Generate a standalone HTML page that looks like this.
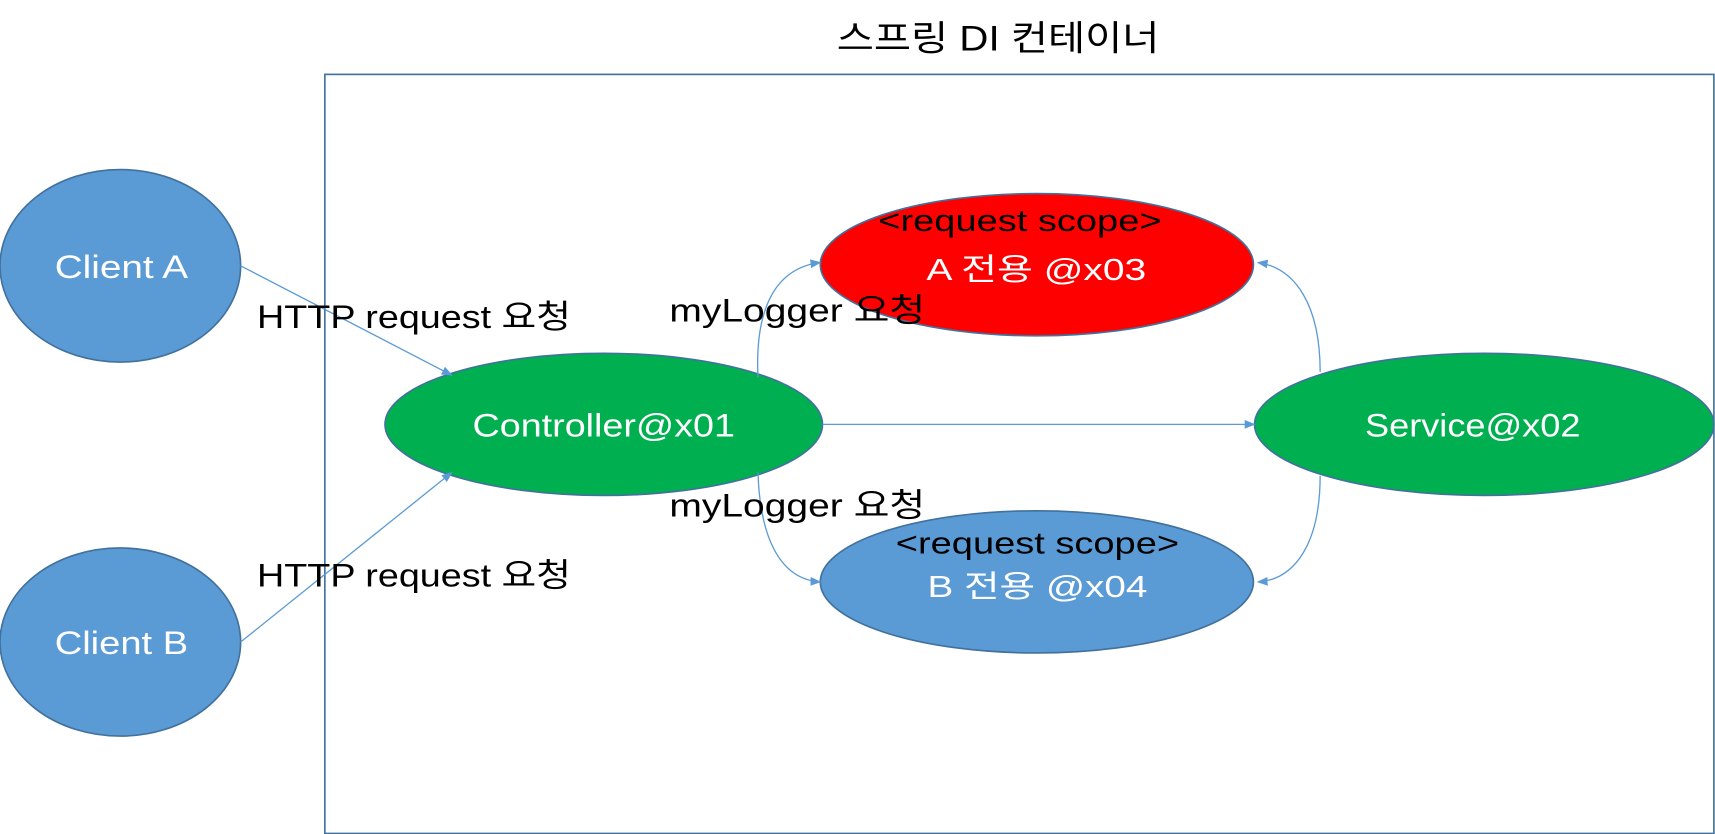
<!DOCTYPE html>
<html><head><meta charset="utf-8"><style>
html,body{margin:0;padding:0;background:#fff;}
svg{display:block;}
text{font-family:"Liberation Sans","Noto Sans CJK KR",sans-serif;}
</style></head><body>
<svg width="1715" height="834" viewBox="0 0 1568 762.5" xmlns="http://www.w3.org/2000/svg">
<defs>
<marker id="ar" markerWidth="10" markerHeight="10" refX="9" refY="5" orient="auto" markerUnits="userSpaceOnUse">
<path d="M0,1 L10,5 L0,9 z" fill="#5b9bd5"/>
</marker>
</defs>
<text x="765" y="46" font-size="32" textLength="295" lengthAdjust="spacingAndGlyphs" fill="#000">스프링 DI 컨테이너</text>
<rect x="297" y="68" width="1270" height="694" fill="none" stroke="#41719c" stroke-width="1.5"/>

<ellipse cx="110" cy="243" rx="110" ry="88" fill="#5b9bd5" stroke="#41719c" stroke-width="1.5"/>
<text x="50" y="254" font-size="30" fill="#fff" textLength="122" lengthAdjust="spacingAndGlyphs">Client A</text>
<ellipse cx="110" cy="587" rx="110" ry="86" fill="#5b9bd5" stroke="#41719c" stroke-width="1.5"/>
<text x="50" y="598" font-size="30" fill="#fff" textLength="122" lengthAdjust="spacingAndGlyphs">Client B</text>

<ellipse cx="552" cy="388" rx="200" ry="65" fill="#00b050" stroke="#41719c" stroke-width="1.5"/>
<text x="432" y="399" font-size="30" fill="#fff" textLength="240" lengthAdjust="spacingAndGlyphs">Controller@x01</text>
<ellipse cx="1357" cy="388" rx="210" ry="65" fill="#00b050" stroke="#41719c" stroke-width="1.5"/>
<text x="1248" y="399" font-size="30" fill="#fff" textLength="197" lengthAdjust="spacingAndGlyphs">Service@x02</text>

<ellipse cx="948" cy="242" rx="198" ry="65" fill="#ff0000" stroke="#41719c" stroke-width="1.5"/>
<ellipse cx="948" cy="532" rx="198" ry="65" fill="#5b9bd5" stroke="#41719c" stroke-width="1.5"/>

<g fill="none" stroke="#5b9bd5" stroke-width="1.2" marker-end="url(#ar)">
<line x1="220" y1="243" x2="413" y2="343"/>
<line x1="220" y1="587" x2="413" y2="432"/>
<line x1="752" y1="388" x2="1147" y2="388"/>
<path d="M693,345 C690,280 710,245 750,240"/>
<path d="M693,432 C695,495 715,530 750,532"/>
<path d="M1207,340 C1207,280 1185,245 1150,240"/>
<path d="M1207,435 C1207,495 1185,530 1150,532"/>
</g>

<text x="235" y="300" font-size="30" fill="#000" textLength="287" lengthAdjust="spacingAndGlyphs">HTTP request 요청</text>
<text x="235" y="536" font-size="30" fill="#000" textLength="287" lengthAdjust="spacingAndGlyphs">HTTP request 요청</text>
<text x="612" y="294" font-size="30" fill="#000" textLength="234" lengthAdjust="spacingAndGlyphs">myLogger 요청</text>
<text x="612" y="472" font-size="30" fill="#000" textLength="234" lengthAdjust="spacingAndGlyphs">myLogger 요청</text>

<text x="803" y="211" font-size="28" fill="#000" textLength="259" lengthAdjust="spacingAndGlyphs">&lt;request scope&gt;</text>
<text x="847" y="256" font-size="28" fill="#fff" textLength="201" lengthAdjust="spacingAndGlyphs">A 전용 @x03</text>
<text x="819" y="506" font-size="28" fill="#000" textLength="259" lengthAdjust="spacingAndGlyphs">&lt;request scope&gt;</text>
<text x="848" y="546" font-size="28" fill="#fff" textLength="201" lengthAdjust="spacingAndGlyphs">B 전용 @x04</text>
</svg>
</body></html>
